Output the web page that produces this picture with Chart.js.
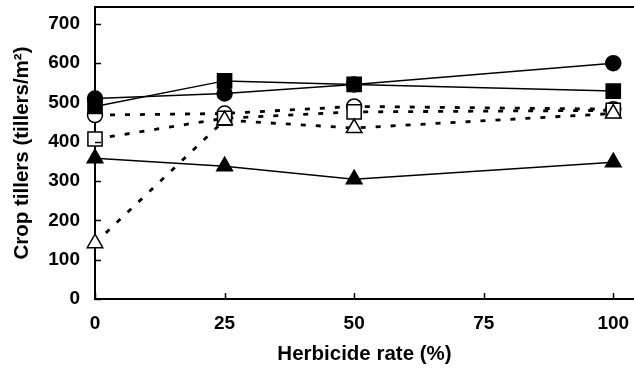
<!DOCTYPE html>
<html>
<head>
<meta charset="utf-8">
<script src="https://cdn.jsdelivr.net/npm/chart.js@4"></script>
<style>
  html, body { margin: 0; padding: 0; background: #fff; }
  #wrap { width: 634px; height: 368px; }
</style>
</head>
<body>
<div id="wrap"><canvas id="tillers"></canvas></div>
<script>
const rates = [0, 25, 50, 100]
const xTicks = [0, 25, 50, 75, 100]
const yTicks = [0, 100, 200, 300, 400, 500, 600, 700]

const filledCircle = [510, 523, 546, 600]
const filledSquare = [490, 555, 546, 529]
const filledTriangle = [358, 338, 305, 348]
const openCircle = [468, 472, 490, 483]
const openSquare = [407, 460, 476, 480]
const openTriangle = [142, 455, 435, 472]

const tickFont = { family: 'Liberation Sans, Arial, sans-serif', size: 19, weight: 'bold' }
const titleFont = { family: 'Liberation Sans, Arial, sans-serif', size: 20.5, weight: 'bold' }

const pts = (values) => values.map((v, i) => ({ x: rates[i], y: v }))

const series = (values, shape, filled, dotted) => ({
    data: pts(values),
    borderColor: '#000',
    borderWidth: dotted ? 2.8 : 1.5,
    borderDash: dotted ? [5, 10] : [],
    pointStyle: shape,
    pointRadius: shape == 'rect' ? 10 : (shape == 'triangle' ? 9 : 7.5),
    pointBackgroundColor: filled ? '#000' : '#fff',
    pointBorderColor: '#000',
    pointBorderWidth: 1.5,
    fill: false,
    clip: false,
    tension: 0
})

// no extra padding around the plot box
const noPad = (scale) => {
    scale.paddingTop = 0
    scale.paddingBottom = 0
    scale.paddingLeft = 0
    scale.paddingRight = 0
}

// inward tick marks + top border, like the original plot
const frame = {
    id: 'frame',
    afterDraw(chart) {
        const { ctx, chartArea, scales } = chart
        ctx.save()
        ctx.strokeStyle = '#000'
        ctx.lineWidth = 1.5
        ctx.beginPath()
        yTicks.forEach(t => {
            const y = Math.round(scales.y.getPixelForValue(t)) + 0.5
            ctx.moveTo(chartArea.left, y)
            ctx.lineTo(chartArea.left + 6, y)
        })
        xTicks.forEach(t => {
            const x = Math.round(scales.x.getPixelForValue(t)) + 0.5
            ctx.moveTo(x, chartArea.bottom)
            ctx.lineTo(x, chartArea.bottom - 6)
        })
        ctx.stroke()
        ctx.lineWidth = 2
        ctx.beginPath()
        ctx.moveTo(chartArea.left, chartArea.top)
        ctx.lineTo(chartArea.right, chartArea.top)
        ctx.stroke()
        ctx.restore()
    }
}

new Chart('tillers', {
    type: 'line',
    data: {
        datasets: [
            series(filledTriangle, 'triangle', true, false),
            series(filledSquare, 'rect', true, false),
            series(filledCircle, 'circle', true, false),
            series(openTriangle, 'triangle', false, true),
            series(openSquare, 'rect', false, true),
            series(openCircle, 'circle', false, true)
        ]
    },
    options: {
        responsive: true,
        maintainAspectRatio: false,
        animation: false,
        layout: { autoPadding: false, padding: { top: 7, right: 0, left: 0, bottom: 0 } },
        plugins: { legend: { display: false }, tooltip: { enabled: false } },
        scales: {
            x: {
                type: 'linear',
                min: 0,
                max: 104,
                afterBuildTicks: (scale) => { scale.ticks = xTicks.map(v => ({ value: v })) },
                afterFit: (scale) => { scale.height = 69; noPad(scale) },
                grid: { display: false, drawTicks: false },
                border: { display: true, color: '#000', width: 2 },
                ticks: { color: '#000', font: tickFont, padding: 13, maxRotation: 0 },
                title: { display: true, text: 'Herbicide rate (%)', color: '#000', font: titleFont, padding: { top: 0, bottom: 1 } }
            },
            y: {
                min: 0,
                max: 743,
                afterBuildTicks: (scale) => { scale.ticks = yTicks.map(v => ({ value: v })) },
                afterFit: (scale) => { scale.width = 95; noPad(scale) },
                grid: { display: false, drawTicks: false },
                border: { display: true, color: '#000', width: 2 },
                ticks: { color: '#000', font: tickFont, padding: 15 },
                title: { display: true, text: 'Crop tillers (tillers/m²)', color: '#000', font: titleFont, padding: { top: 10, bottom: 0 } }
            }
        }
    },
    plugins: [frame]
})
</script>
</body>
</html>
